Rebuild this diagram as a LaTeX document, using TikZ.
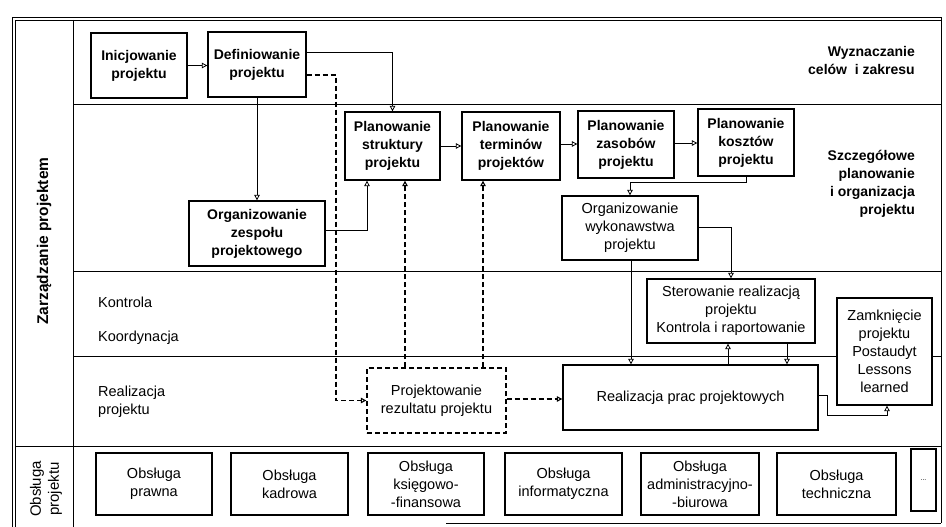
\documentclass[tikz,border=0pt]{standalone}
\usepackage{fontspec}
\setmainfont{Liberation Sans}
\usetikzlibrary{arrows.meta}
\begin{document}
\begin{tikzpicture}[x=1pt,y=-1pt,
  frameline/.style={line width=0.9pt},
  bandline/.style={line width=0.8pt},
  bbox/.style={draw, line width=1.3pt, fill=white, align=center, inner sep=0pt,
    font=\fontsize{14}{18}\selectfont\bfseries},
  rbox/.style={draw, line width=1.3pt, fill=white, align=center, inner sep=0pt,
    font=\fontsize{14.5}{18}\selectfont},
  dbox/.style={rbox, dash pattern=on 5pt off 3pt},
  conn/.style={line width=0.8pt, -{Triangle[open,length=5.5pt,width=5.5pt]}},
  dconn/.style={line width=1.1pt, dash pattern=on 5pt off 3pt, -{Triangle[open,length=5.5pt,width=5.5pt]}},
  blabel/.style={font=\fontsize{14}{18}\selectfont\bfseries, inner sep=0pt},
  rlabel/.style={font=\fontsize{14.5}{18}\selectfont, inner sep=0pt}
]
\useasboundingbox (0,0) rectangle (946,527);
\fill[white] (0,0) rectangle (946,527);

% frame
\draw[frameline] (12,527) -- (12,17) -- (941,17) -- (941,523);
\draw[frameline] (15,527) -- (15,20) -- (941,20);
\draw[frameline] (73,20) -- (73,527);
\draw[frameline] (15,446) -- (941,446);
\draw[frameline] (446,523) -- (941,523);
% bands
\draw[bandline] (73,104) -- (941,104);
\draw[bandline] (73,271) -- (941,271);
\draw[bandline] (73,356) -- (941,356);

% side labels
\node[blabel, rotate=90, font=\fontsize{15.5}{18}\selectfont\bfseries] (zar) at (44,241) {Zarządzanie projektem};
\node[rlabel, rotate=90, align=center, font=\fontsize{15}{18}\selectfont] (obs) at (46,489) {Obsługa\\projektu};

% band labels
\node[blabel, align=right, anchor=east] (wyz) at (915,60) {Wyznaczanie\\celów\ \ i zakresu};
\node[blabel, align=right, anchor=east] (szc) at (915,184) {Szczegółowe\\planowanie\\i organizacja\\projektu};
\node[rlabel, anchor=west] (kon) at (98,302) {Kontrola};
\node[rlabel, anchor=west] (koo) at (98,338) {Koordynacja};
\node[rlabel, anchor=west, align=left] (rea) at (98,402) {Realizacja\\projektu};

% boxes
\node[bbox, minimum width=96, minimum height=65] (ini) at (139,65.5) {Inicjowanie\\projektu};
\node[bbox, minimum width=98, minimum height=65] (def) at (257,64.5) {Definiowanie\\projektu};
\node[bbox, minimum width=136, minimum height=65] (orgz) at (257,233.5) {Organizowanie\\zespołu\\projektowego};
\node[bbox, minimum width=95, minimum height=68] (str) at (392.5,146) {Planowanie\\struktury\\projektu};
\node[bbox, minimum width=98, minimum height=68] (ter) at (511,146) {Planowanie\\terminów\\projektów};
\node[bbox, minimum width=96, minimum height=67] (zas) at (626,144.5) {Planowanie\\zasobów\\projektu};
\node[bbox, minimum width=96, minimum height=67] (kos) at (746,142.5) {Planowanie\\kosztów\\projektu};
\node[rbox, minimum width=136, minimum height=64] (wyk) at (630,228) {Organizowanie\\wykonawstwa\\projektu};
\node[rbox, minimum width=168, minimum height=64] (ste) at (731,311) {Sterowanie realizacją\\projektu\\Kontrola i raportowanie};
\node[rbox, minimum width=255, minimum height=65] (real) at (690.5,397.5) {Realizacja prac projektowych};
\node[rbox, minimum width=95, minimum height=107] (zam) at (884.5,351.5) {Zamknięcie\\projektu\\Postaudyt\\Lessons\\learned};
\node[dbox, minimum width=139, minimum height=65] (proj) at (436.5,400.5) {Projektowanie\\rezultatu projektu};

% support boxes
\node[rbox, minimum width=116, minimum height=62] (o1) at (154,484) {Obsługa\\prawna};
\node[rbox, minimum width=117, minimum height=62] (o2) at (289.5,484) {Obsługa\\kadrowa};
\node[rbox, minimum width=116, minimum height=62] (o3) at (426,484) {Obsługa\\księgowo-\\-finansowa};
\node[rbox, minimum width=117, minimum height=62] (o4) at (563.5,484) {Obsługa\\informatyczna};
\node[rbox, minimum width=118, minimum height=62] (o5) at (700,484) {Obsługa\\administracyjno-\\-biurowa};
\node[rbox, minimum width=119, minimum height=62] (o6) at (836.5,484) {Obsługa\\techniczna};
\node[rbox, minimum width=25, minimum height=62, font=\fontsize{7}{8}\selectfont] (o7) at (923.5,480) {...};

% connectors
\draw[conn] (ini.east) -- (ini.east -| def.west);
\draw[conn] ([yshift=12.5pt]def.east) -| (str.north);
\coordinate (c3) at (336,0);
\coordinate (d2) at ([yshift=-10.5pt]def.east);
\draw[dconn] (d2) -| (c3 |- proj.west) -- (proj.west);
\draw[conn] (def.south) -- (orgz.north);
\draw[conn] ([yshift=3.5pt]orgz.east) -| ([xshift=-25.5pt]str.south);
\coordinate (p1) at ([xshift=-31.5pt]proj.north);
\coordinate (p2) at ([xshift=46.5pt]proj.north);
\draw[dconn] (p1) -- (p1 |- str.south);
\draw[dconn] (p2) -- (p2 |- ter.south);
\draw[conn] (str.east) -- (str.east -| ter.west);
\draw[conn] ([yshift=2pt]ter.east) -- ([yshift=2pt]ter.east -| zas.west);
\draw[conn] ([yshift=1.5pt]zas.east) -- ([yshift=1.5pt]zas.east -| kos.west);
\draw[conn] (kos.south) -- ++(0,6) -| (wyk.north);
\draw[conn] ([yshift=1pt]wyk.east) -| (ste.north);
\coordinate (w1) at ([xshift=1pt]wyk.south);
\draw[conn] (w1) -- (w1 |- real.north);
\coordinate (r1) at ([xshift=37.5pt]real.north);
\draw[conn] (r1) -- (r1 |- ste.south);
\coordinate (s1) at ([xshift=56pt]ste.south);
\draw[conn] (s1) -- (s1 |- real.north);
\draw[conn] ([yshift=2.5pt]real.east) -- ++(9,0) -- ++(0,20) -| ([xshift=2.5pt]zam.south);
\coordinate (q1) at ([yshift=1.5pt]proj.east);
\draw[dconn] (q1) -- (q1 -| real.west);
\end{tikzpicture}
\end{document}
